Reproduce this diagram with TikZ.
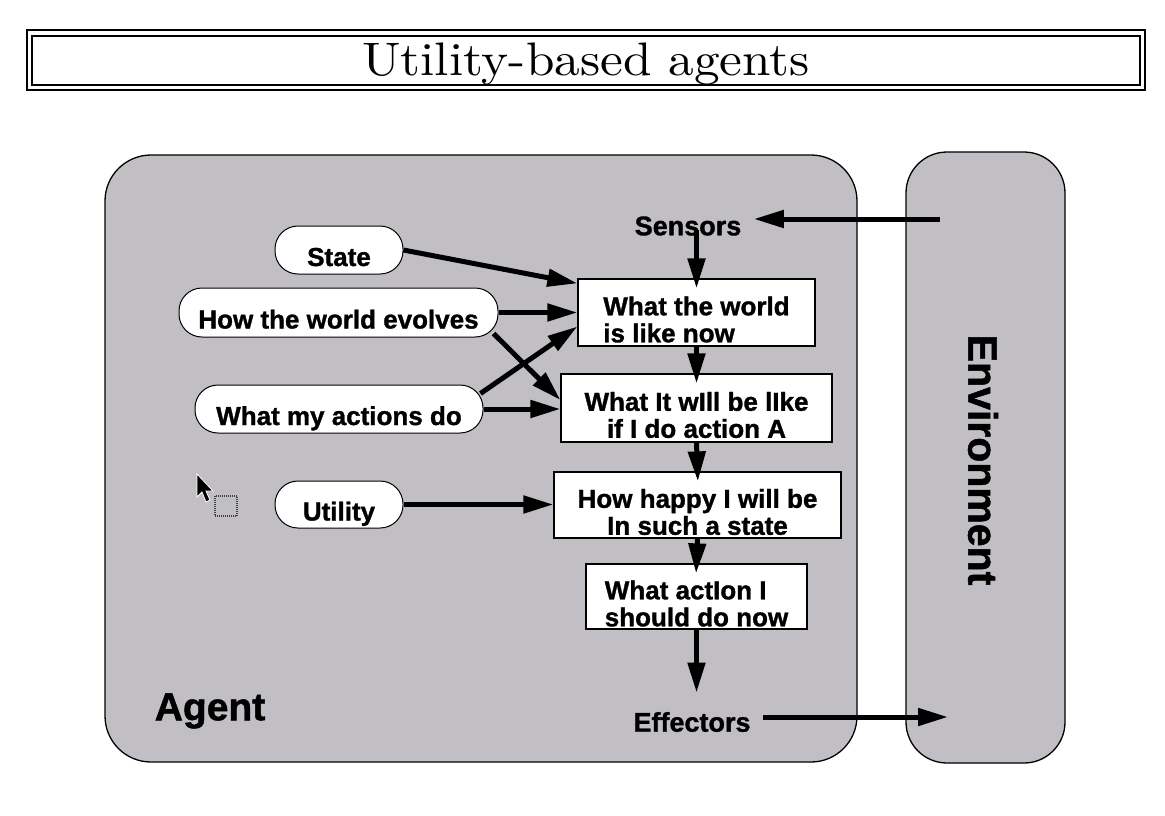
\documentclass[tikz,border=0pt]{standalone}
\usepackage{fontspec}
\newfontfamily\diagfont{Liberation Sans}[BoldFeatures={FakeBold=1.2}]
\newfontfamily\titlefont{lmroman10-regular.otf}
\usetikzlibrary{arrows.meta}
\definecolor{boxgray}{RGB}{193,191,195}
\begin{document}
\begin{tikzpicture}[x=1pt,y=-1pt,
  lab/.style={font={\diagfont\bfseries\fontsize{26}{27}\selectfont}},
  arr/.style={line width=5pt, -{Triangle[length=30pt,width=17pt]}},
  pill/.style={draw=black, line width=1pt, fill=white, rounded corners=23pt,
    inner sep=0pt, lab, text height=32pt, text depth=0pt},
  stepbox/.style={draw=black, line width=1.2pt, fill=white, inner sep=0pt},
  boxtxt/.style={lab, inner sep=0pt, yshift=-7pt},
  bigpanel/.style={draw=black, line width=1.3pt, fill=boxgray, inner sep=0pt}
]
\useasboundingbox (0,0) rectangle (1165,815);
% title frame
\draw[line width=1.2pt] (27,30) rectangle (1145,90);
\draw[line width=1.6pt] (32,36) rectangle (1140,85);
\node[font={\titlefont\fontsize{47}{50}\selectfont}, inner sep=0pt, anchor=base] (title) at (586,75)
  {\scalebox{1.09}[1]{Utility-based agents}};
% panels
\node[bigpanel, rounded corners=46pt, minimum width=752pt, minimum height=607pt] (agent) at (481,458.5) {};
\node[bigpanel, rounded corners=41pt, minimum width=159pt, minimum height=611pt] (env) at (985.5,457.5) {};
\node[font={\diagfont\bfseries\fontsize{41}{44}\selectfont}, rotate=-90] (envtxt) at (983,460) {Environment};
\node[font={\diagfont\bfseries\fontsize{39}{42}\selectfont}] (agenttxt) at (210,711) {Agent};
% sensors/effectors
\node[font={\diagfont\bfseries\fontsize{27}{28}\selectfont}] (sens) at (688,226) {Sensors};
\node[font={\diagfont\bfseries\fontsize{27}{28}\selectfont}] (eff) at (692,722) {Effectors};
% pills
\node[pill, minimum width=128pt, minimum height=48pt] (state) at (339,250) {State};
\node[pill, minimum width=319pt, minimum height=49pt] (evolves) at (338.5,312.5) {How the world evolves};
\node[pill, minimum width=288pt, minimum height=48pt] (actions) at (339,409) {What my actions do};
\node[pill, minimum width=128pt, minimum height=47pt] (utility) at (339,504.5) {Utility};
% boxes
\node[stepbox, minimum width=237pt, minimum height=67pt,
  label={[boxtxt, align=left]center:{What the world\\is like now}}] (box1) at (696.5,312.5) {};
\node[stepbox, minimum width=271pt, minimum height=68pt,
  label={[boxtxt, align=center]center:{What It wIll be lIke\\if I do action A}}] (box2) at (696.5,408) {};
\node[stepbox, minimum width=287pt, minimum height=66pt,
  label={[boxtxt, align=center]center:{How happy I will be\\In such a state}}] (box3) at (697.5,505) {};
\node[stepbox, minimum width=221pt, minimum height=65pt,
  label={[boxtxt, align=left]center:{What actIon I\\should do now}}] (box4) at (696.5,596.5) {};
% environment connection points
\coordinate (envS) at (940,219);
\coordinate (envE) at (948,717);
% arrows
\draw[arr, shorten >=9pt] (envS) -- (sens.east |- envS);
\draw[arr, shorten <=9pt] (eff.east |- envE) -- (envE);
\draw[arr, shorten <=-9pt, shorten >=-10pt] (box1.north |- sens.south) -- (box1.north);
\draw[arr, shorten >=-10pt] (box1.south) -- (box2.north);
\draw[arr, shorten >=-10pt] (box2.south) -- (box3.north);
\draw[arr, shorten >=-10pt] (box3.south) -- (box4.north);
\draw[arr, shorten >=16pt] (box4.south) -- (box4.south |- eff.north);
\draw[arr] (state.east) -- ([yshift=-5pt]box1.north west);
\draw[arr] (evolves.east) -- (box1.west);
\draw[arr] ([xshift=-5pt,yshift=4pt]evolves.south east) -- ([yshift=8pt]box2.west);
\draw[arr] ([xshift=-3pt,yshift=-9pt]actions.north east) -- ([yshift=-14pt]box1.west);
\draw[arr] (actions.east) -- (actions.east -| box2.west);
\draw[arr] (utility.east) -- (utility.east -| box3.west);
% mouse cursor
\fill[black, draw=white, line width=0.8pt] (197,474) -- (197,497) -- (202,492) -- (206,502)
  -- (210,500) -- (206,491) -- (213,491) -- cycle;
\draw[black!75, line width=2pt, dash pattern=on 1pt off 1pt] (215,496) rectangle (237,516);
\end{tikzpicture}
\end{document}
